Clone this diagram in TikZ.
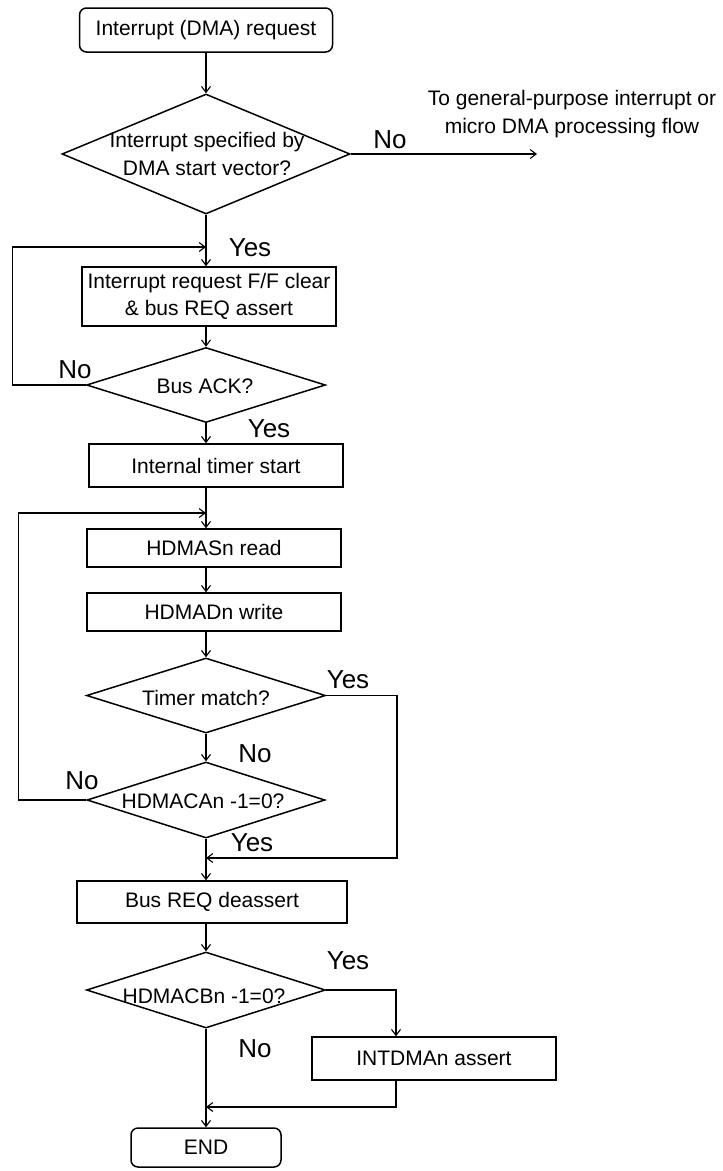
\documentclass[tikz,border=0pt]{standalone}
\usepackage{fontspec}
\setmainfont{Liberation Sans}
\usetikzlibrary{shapes.geometric,arrows.meta}
\begin{document}
\begin{tikzpicture}[x=1pt,y=-1pt,
  line width=1.3pt,
  >={Straight Barb[length=6pt,width=9pt,line width=1.1pt]},
  box/.style={draw,rectangle,inner sep=0pt,line width=1.5pt,align=center,
              font=\fontsize{21}{27.5}\selectfont},
  rbox/.style={box,rounded corners=7pt},
  dia/.style={draw,diamond,inner sep=0pt,line width=1.5pt},
  txt/.style={inner sep=0pt,align=center,font=\fontsize{21}{28.5}\selectfont},
  yn/.style={inner sep=0pt,font=\fontsize{26}{28}\selectfont}
]
\fill[white] (0,0) rectangle (723,1171);
\useasboundingbox (0,0) rectangle (723,1171);
\coordinate (ax) at (206,0);

% nodes
\node[rbox,minimum width=253pt,minimum height=44pt] (start) at (206,30) {Interrupt (DMA) request};
\node[dia,minimum width=288pt,minimum height=120pt] (d1) at (206,154) {};
\node[txt] (d1t) at (207,154) {Interrupt specified by\\DMA start vector?};
\node[box,minimum width=254pt,minimum height=59pt] (ffclr) at (209,296.5) {Interrupt request F/F clear\\\& bus REQ assert};
\node[dia,minimum width=239pt,minimum height=75pt] (ack) at (206,385) {};
\node[txt] (ackt) at (205,386) {Bus ACK?};
\node[box,minimum width=254pt,minimum height=43pt] (timer) at (216,465.5) {Internal timer start};
\node[box,minimum width=254pt,minimum height=38pt] (hdmas) at (214,548) {HDMASn read};
\node[box,minimum width=254pt,minimum height=38pt] (hdmad) at (214,612) {HDMADn write};
\node[dia,minimum width=239pt,minimum height=75pt] (tmatch) at (206,695.5) {};
\node[txt] (tmatcht) at (206,698) {Timer match?};
\node[dia,minimum width=238pt,minimum height=76pt] (hcan) at (206,800) {};
\node[txt] (hcant) at (203,801) {HDMACAn -1=0?};
\node[box,minimum width=270pt,minimum height=42pt] (bdeas) at (212,902) {Bus REQ deassert};
\node[dia,minimum width=239pt,minimum height=76pt] (hcbn) at (206,990) {};
\node[txt] (hcbnt) at (204,996) {HDMACBn -1=0?};
\node[box,minimum width=244pt,minimum height=43pt] (intdma) at (434,1058.5) {INTDMAn assert};
\node[rbox,minimum width=150pt,minimum height=39pt] (end) at (206,1147.5) {END};

\node[txt] (gptxt) at (572,114) {To general-purpose interrupt or\\micro DMA processing flow};

% labels
\node[yn] (n1) at (390,140) {No};
\node[yn] (y1) at (250,248) {Yes};
\node[yn] (n2) at (75,370) {No};
\node[yn] (y2) at (269,429) {Yes};
\node[yn] (y3) at (348,680) {Yes};
\node[yn] (n3) at (255,754) {No};
\node[yn] (n4) at (82,781) {No};
\node[yn] (y4) at (252,843) {Yes};
\node[yn] (y5) at (348,961) {Yes};
\node[yn] (n5) at (255,1049) {No};

% helper coordinates
\coordinate (gp) at (537,154);
\coordinate (l1) at (12.5,247);
\coordinate (j1) at (206,247);
\coordinate (l2) at (18.5,513);
\coordinate (j2) at (206,513);
\coordinate (r1) at (397,858);
\coordinate (j3) at (206,858);
\coordinate (r2) at (396,0);
\coordinate (j4) at (206,1107);

% connectors
\draw[->] (start.south) -- (d1.north);
\draw[->] (d1.east) -- (gp);
\draw[->] (d1.south) -- (ffclr.north -| ax);
\draw[->] (ack.west) -| (l1) -- (j1);
\draw[->] (ffclr.south -| ax) -- (ack.north);
\draw[->] (ack.south) -- (timer.north -| ax);
\draw[->] (timer.south -| ax) -- (hdmas.north -| ax);
\draw[->] (hcan.west) -| (l2) -- (j2);
\draw[->] (hdmas.south -| ax) -- (hdmad.north -| ax);
\draw[->] (hdmad.south -| ax) -- (tmatch.north);
\draw[->] (tmatch.south) -- (hcan.north);
\draw[->] (tmatch.east) -| (r1) -- (j3);
\draw[->] (hcan.south) -- (bdeas.north -| ax);
\draw[->] (bdeas.south -| ax) -- (hcbn.north);
\draw[->] (hcbn.east) -| (intdma.north -| r2);
\draw[->] (hcbn.south) -- (end.north);
\draw[->] (intdma.south -| r2) |- (j4);
\end{tikzpicture}
\end{document}
